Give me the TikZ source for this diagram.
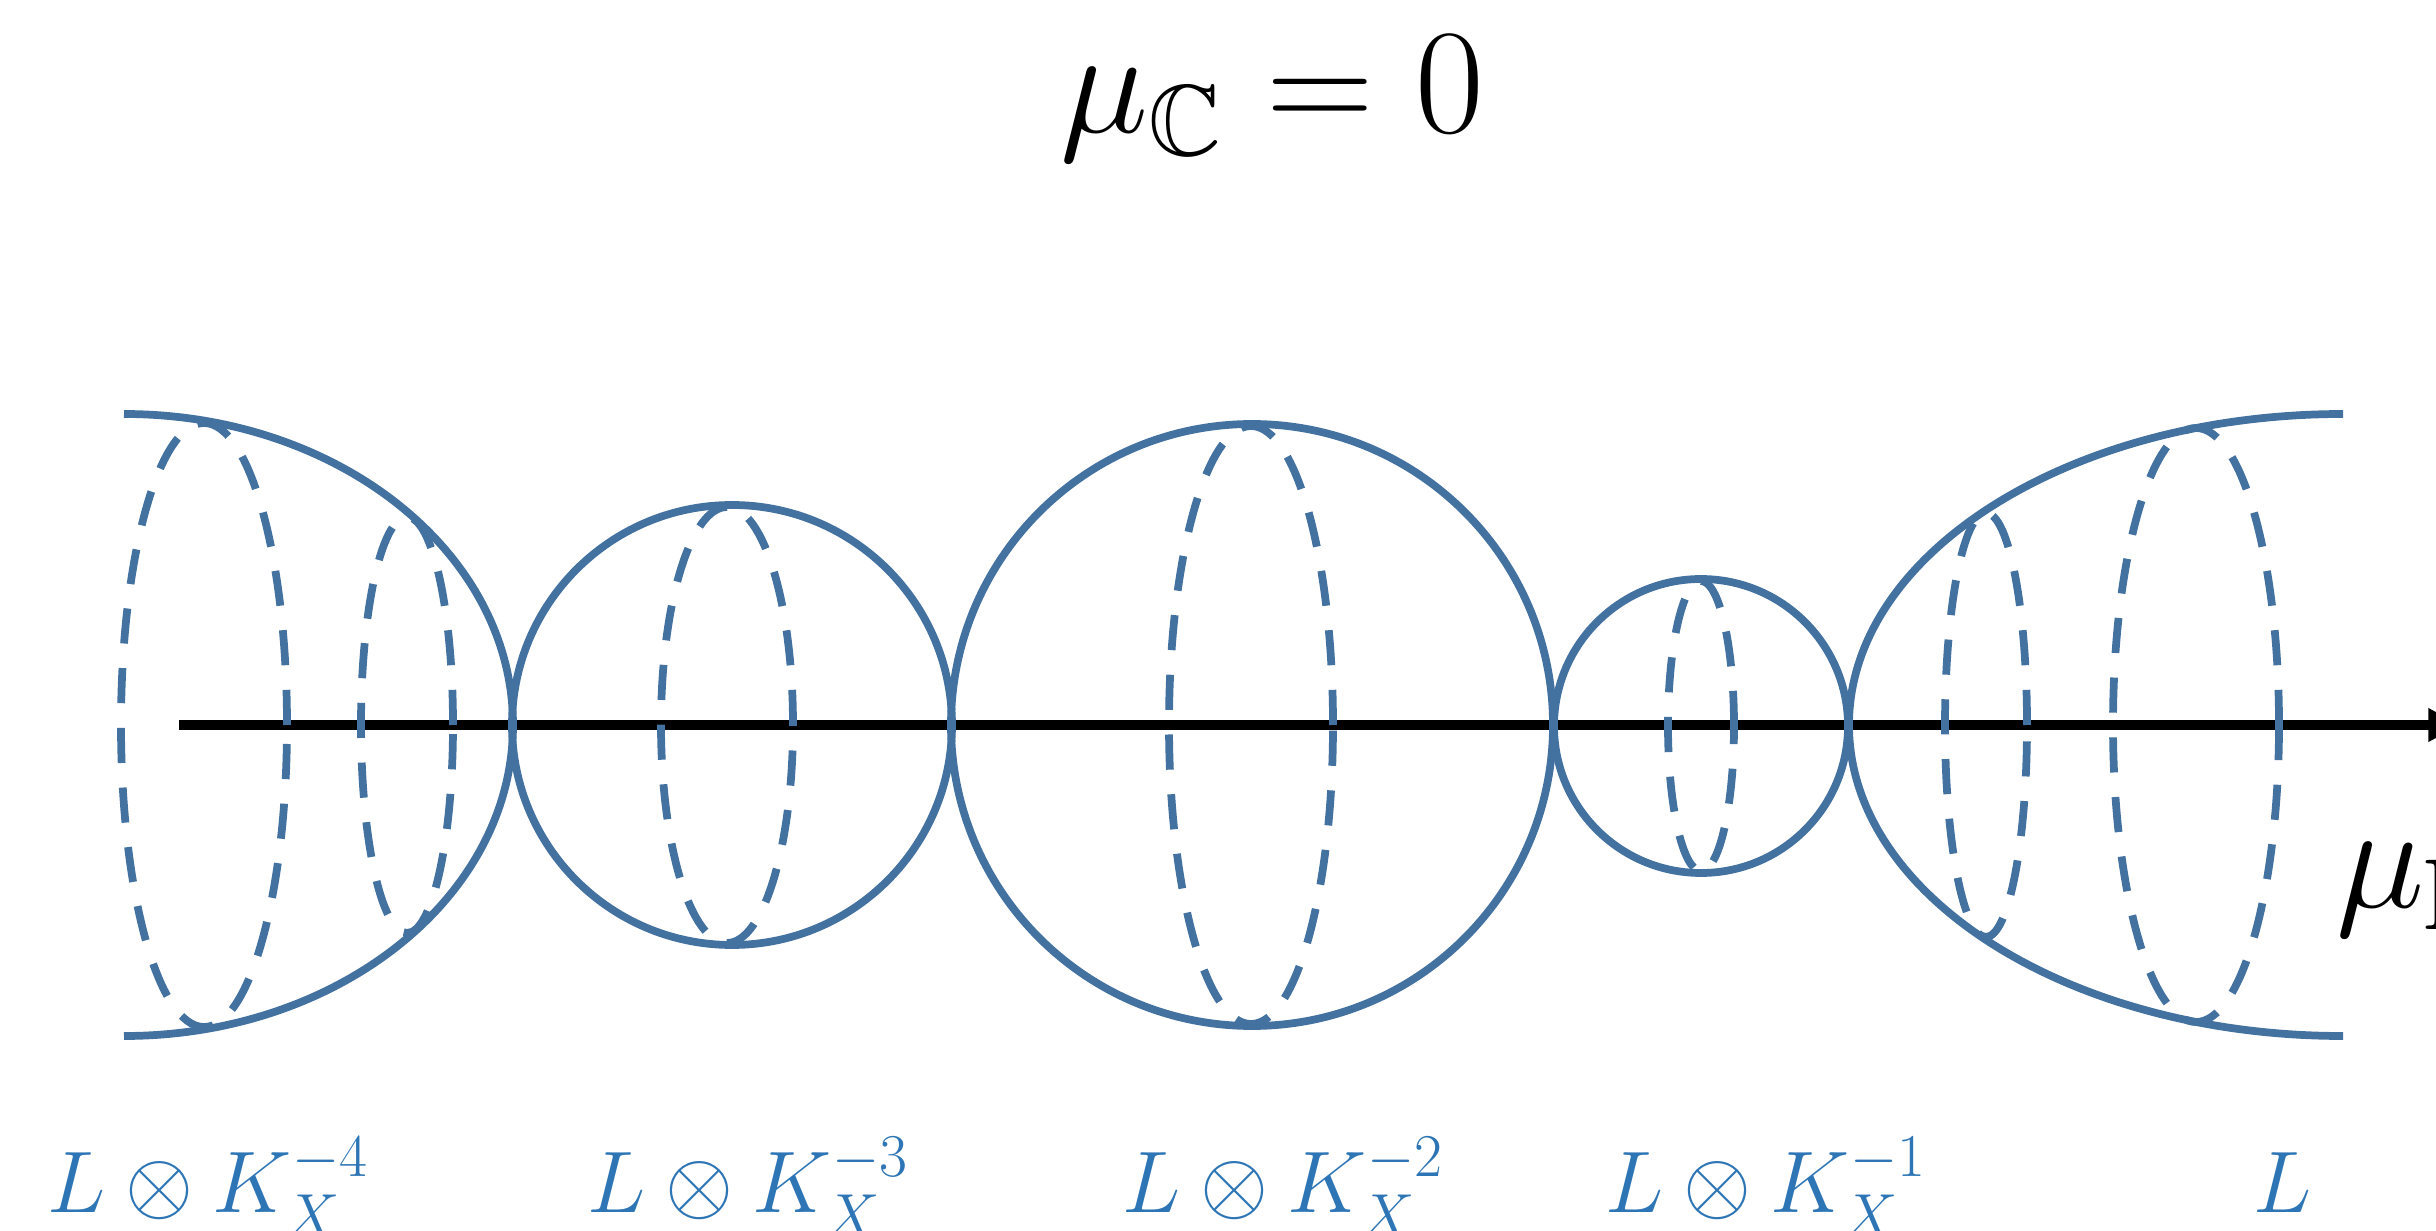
\documentclass[tikz,border=0pt]{standalone}
\usepackage{amsmath}
\usepackage{amssymb}
\usepackage{graphicx}
\usepackage{tikz}
\usetikzlibrary{arrows.meta}
\definecolor{FibreBlue}{HTML}{4472A0}
\definecolor{LabelBlue}{HTML}{2E75B6}

\begin{document}
\begin{tikzpicture}[
  x=0.01cm, y=0.01cm,
  surface/.style={draw=FibreBlue, line width=2.2pt},
  fibre/.style={draw=FibreBlue, line width=2.2pt, dash pattern=on 10pt off 7pt},
  axisline/.style={draw=black, line width=2.8pt,
                   -{Triangle[length=9pt, width=9pt]}},
  bundle/.style={text=LabelBlue, anchor=base west, inner sep=0pt,
                 font=\fontsize{24}{28}\selectfont},
  bigmath/.style={inner sep=0pt, font=\fontsize{20}{24}\selectfont}
]
\useasboundingbox (0,0) rectangle (2436,-1231);
\clip (0,0) rectangle (2436,-1231);
\node[bigmath, anchor=base] (title) at (1272,-133)
  {\scalebox{2.05}{$\mu_{\mathbb{C}} = 0$}};
\coordinate (axstart) at (179,-725);
\coordinate (axend) at (2460,-725);
\draw[axisline] (axstart) -- (axend);
\node[bigmath, anchor=base west] (mur) at (2336,-907)
  {\scalebox{2.05}{$\mu_{\mathbb{R}}$}};
\draw[surface] (124,-414) arc[start angle=90, end angle=-90,
  x radius=389, y radius=311];
\draw[surface] (732,-725) circle[radius=220];
\draw[surface] (1252,-725) circle[radius=301];
\draw[surface] (1701,-726) circle[radius=147];
\draw[surface] (2343,-414) arc[start angle=90, end angle=270,
  x radius=494, y radius=311];
\draw[fibre] (204,-725) ellipse[x radius=83, y radius=302];
\draw[fibre] (407,-725) ellipse[x radius=46, y radius=208];
\draw[fibre] (727,-725) ellipse[x radius=66, y radius=218];
\draw[fibre] (1251,-725) ellipse[x radius=82, y radius=299];
\draw[fibre] (1701,-726) ellipse[x radius=33, y radius=145];
\draw[fibre] (1986,-725) ellipse[x radius=41, y radius=212];
\draw[fibre] (2196,-725) ellipse[x radius=83, y radius=297];
\node[bundle] (k4) at (47,-1212) {$L \otimes K_X^{-4}$};
\node[bundle] (k3) at (587,-1212) {$L \otimes K_X^{-3}$};
\node[bundle] (k2) at (1122,-1212) {$L \otimes K_X^{-2}$};
\node[bundle] (k1) at (1605,-1212) {$L \otimes K_X^{-1}$};
\node[bundle] (l0) at (2253,-1212) {$L$};
\end{tikzpicture}
\end{document}
